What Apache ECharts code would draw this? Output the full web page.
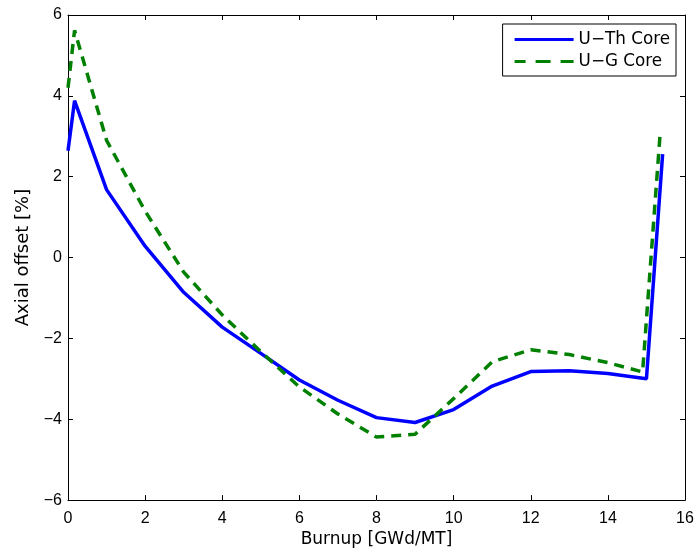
<!DOCTYPE html>
<html>
<head>
<meta charset="utf-8">
<script src="https://cdn.jsdelivr.net/npm/echarts@6/dist/echarts.min.js"></script>
<style>html,body{margin:0;padding:0;background:#fff}#c{width:697px;height:553px}</style>
</head>
<body>
<div id="c"></div>
<script>
const burnupTh = [0, 0.17, 1, 2, 3, 4, 5, 6, 7, 8, 9, 10, 11, 12, 13, 14, 15, 15.42];
const offsetTh = [2.64, 3.88, 1.68, 0.28, -0.86, -1.72, -2.37, -3.03, -3.53, -3.96, -4.08, -3.76, -3.18, -2.82, -2.80, -2.87, -3.00, 2.56];
const burnupG = [0, 0.17, 1, 2, 3, 4, 5, 6, 7, 8, 9, 10, 11, 12, 13, 14, 14.9, 15.35];
const offsetG = [4.2, 5.62, 2.9, 1.15, -0.36, -1.42, -2.33, -3.2, -3.87, -4.44, -4.37, -3.49, -2.58, -2.28, -2.40, -2.60, -2.83, 3.0];
const seriesNames = ['U\u2212Th Core', 'U\u2212G Core'];
const xTicks = {min: 0, max: 16, interval: 2};
const yTicks = {min: -6, max: 6, interval: 2};

const pair = (xs, ys) => xs.map((x, i) => [x, ys[i]]);
const fmt = v => (v < 0 ? '\u2212' + Math.abs(v) : String(v));
const tickFont = 'Liberation Sans, Arial, sans-serif';
const nameFont = 'DejaVu Sans, sans-serif';
const axisCommon = {
  axisLine: {show: true, onZero: false, lineStyle: {color: '#000', width: 1}},
  axisTick: {show: true, inside: true, length: 5, lineStyle: {color: '#000'}},
  splitLine: {show: false}
};
const solidIcon = 'path://M0,0h59v3h-59z';
const dashIcon = 'path://M0,0h11v3h-11z M21,0h15v3h-15z M46,0h13v3h-13z';
const chart = echarts.init(document.getElementById('c'));
chart.setOption({
  animation: false,
  backgroundColor: '#fff',
  grid: {left: 68, right: 12, top: 15, bottom: 52, containLabel: false},
  legend: {
    right: 21, top: 24, orient: 'vertical',
    backgroundColor: '#fff', borderColor: '#000', borderWidth: 1, borderRadius: 0,
    padding: [7, 6, 6, 12], itemGap: 5, itemWidth: 59, itemHeight: 14,
    symbolKeepAspect: true,
    itemStyle: {borderWidth: 0},
    textStyle: {fontFamily: nameFont, fontSize: 16.8, color: '#000'},
    data: [
      {name: seriesNames[0], icon: solidIcon, itemStyle: {color: '#0000ff', borderWidth: 0}},
      {name: seriesNames[1], icon: dashIcon, itemStyle: {color: '#008000', borderWidth: 0}}
    ]
  },
  xAxis: [
    Object.assign({type: 'value', position: 'bottom', min: xTicks.min, max: xTicks.max, interval: xTicks.interval,
      name: 'Burnup [GWd/MT]', nameLocation: 'middle', nameGap: 30,
      nameTextStyle: {fontFamily: nameFont, fontSize: 17, color: '#000'},
      axisLabel: {fontFamily: tickFont, fontSize: 16, color: '#000', margin: 10, formatter: fmt}}, axisCommon),
    Object.assign({type: 'value', position: 'top', min: xTicks.min, max: xTicks.max, interval: xTicks.interval,
      axisLabel: {show: false}}, axisCommon)
  ],
  yAxis: [
    Object.assign({type: 'value', position: 'left', min: yTicks.min, max: yTicks.max, interval: yTicks.interval,
      name: 'Axial offset [%]', nameLocation: 'middle', nameGap: 36,
      nameTextStyle: {fontFamily: nameFont, fontSize: 18, color: '#000'},
      axisLabel: {fontFamily: tickFont, fontSize: 16, color: '#000', margin: 6, formatter: fmt}}, axisCommon),
    Object.assign({type: 'value', position: 'right', min: yTicks.min, max: yTicks.max, interval: yTicks.interval,
      axisLabel: {show: false}}, axisCommon)
  ],
  series: [
    {name: seriesNames[0], type: 'line', data: pair(burnupTh, offsetTh), showSymbol: false, symbol: 'none',
      lineStyle: {color: '#0000ff', width: 3.5}, itemStyle: {color: '#0000ff'}, z: 3},
    {name: seriesNames[1], type: 'line', data: pair(burnupG, offsetG), showSymbol: false, symbol: 'none',
      lineStyle: {color: '#008000', width: 3.5, type: [10, 7]}, itemStyle: {color: '#008000'}, z: 4}
  ]
});
</script>
</body>
</html>
